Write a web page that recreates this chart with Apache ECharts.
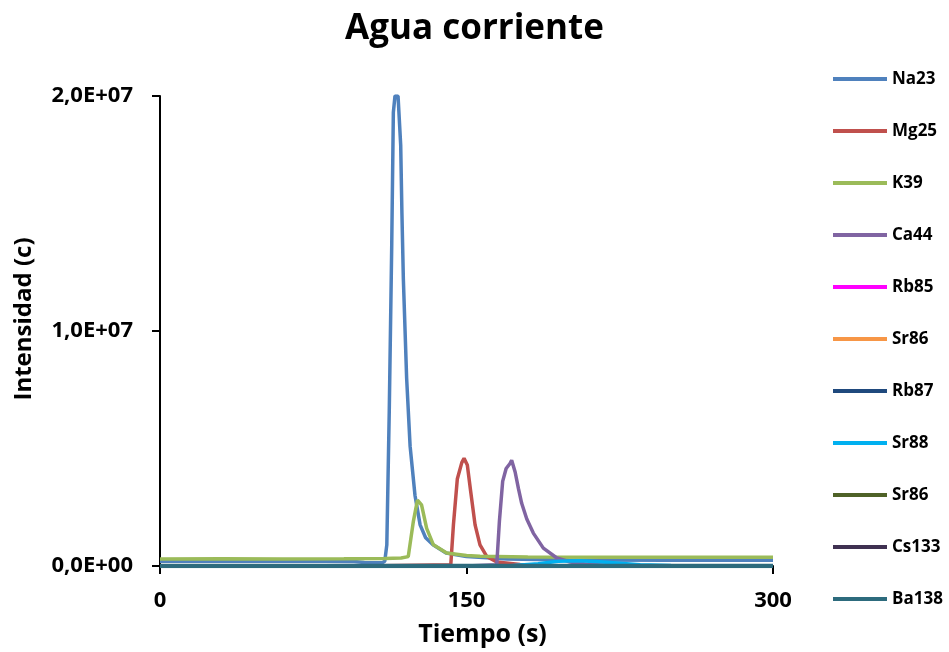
<!DOCTYPE html>
<html>
<head>
<meta charset="utf-8">
<script src="https://cdn.jsdelivr.net/npm/echarts@6/dist/echarts.min.js"></script>
<style>
  html, body { margin: 0; padding: 0; background: #fff; }
  #chart { width: 949px; height: 652px; }
</style>
</head>
<body>
<div id="chart"></div>
<script>
// Transient signals (counts) for a tap-water injection, time in seconds
const na23Time   = [0, 20, 40, 60, 80, 95, 100, 105, 109, 110, 111, 112.2, 113.4, 114.2, 115, 116.5, 117.8, 118.4, 119.1, 120.7, 122.4, 124.8, 127.3, 130, 133.6, 140, 150, 170, 200, 250, 300];
const na23Counts = [0.2e6, 0.21e6, 0.2e6, 0.21e6, 0.2e6, 0.19e6, 0.15e6, 0.14e6, 0.15e6, 0.2e6, 0.9e6, 6.6e6, 13.6e6, 19.3e6, 2.0e7, 2.0e7, 17.9e6, 15e6, 12.2e6, 8e6, 5.1e6, 3.0e6, 1.75e6, 1.2e6, 0.9e6, 0.55e6, 0.4e6, 0.3e6, 0.26e6, 0.24e6, 0.24e6];

const mg25Time   = [0, 100, 142.3, 143.6, 145.5, 147.7, 148.8, 150.4, 152, 154.2, 156.6, 159.9, 164.8, 176.2, 190, 300];
const mg25Counts = [0, 0, 0.05e6, 1.75e6, 3.7e6, 4.4e6, 4.58e6, 4.3e6, 3.2e6, 1.75e6, 0.9e6, 0.41e6, 0.17e6, 0.06e6, 0.02e6, 0];

const k39Time    = [0, 30, 60, 90, 110, 118, 121.5, 124, 126, 128, 130.5, 133.8, 140.3, 150, 156.6, 180, 220, 260, 300];
const k39Counts  = [0.3e6, 0.31e6, 0.3e6, 0.31e6, 0.32e6, 0.34e6, 0.4e6, 1.9e6, 2.8e6, 2.6e6, 1.6e6, 0.9e6, 0.55e6, 0.45e6, 0.41e6, 0.38e6, 0.37e6, 0.37e6, 0.37e6];

const ca44Time   = [0, 150, 164.8, 166.1, 167.7, 169.4, 171.3, 172.1, 173.8, 175.4, 177, 179.5, 182.7, 187.6, 194.2, 200.7, 210, 225, 300];
const ca44Counts = [0, 0, 0.05e6, 1.9e6, 3.6e6, 4.15e6, 4.36e6, 4.5e6, 4.0e6, 3.3e6, 2.67e6, 2.0e6, 1.4e6, 0.76e6, 0.34e6, 0.17e6, 0.06e6, 0.02e6, 0];

const sr88Time   = [0, 170, 185, 195, 205, 215, 225, 235, 250, 300];
const sr88Counts = [0, 0, 0.1e6, 0.2e6, 0.22e6, 0.18e6, 0.12e6, 0.05e6, 0.02e6, 0];

// Minor isotopes stay at the baseline for the whole run
const flatTime   = [0, 300];
const flatCounts = [0, 0];

const xTicks = [0, 150, 300];
const yTicks = [0, 1e7, 2e7];

const legendNames = ['Na23', 'Mg25', 'K39', 'Ca44', 'Rb85', 'Sr86', 'Rb87', 'Sr88', 'Sr86 ', 'Cs133', 'Ba138'];

function pairs(t, v) { return t.map((x, i) => [x, v[i]]); }

const seriesDefs = [
  { name: 'Na23',  color: '#4F81BD', t: na23Time, v: na23Counts },
  { name: 'Mg25',  color: '#C0504D', t: mg25Time, v: mg25Counts },
  { name: 'K39',   color: '#9BBB59', t: k39Time,  v: k39Counts },
  { name: 'Ca44',  color: '#8064A2', t: ca44Time, v: ca44Counts },
  { name: 'Rb85',  color: '#FF00FF', t: flatTime, v: flatCounts },
  { name: 'Sr86',  color: '#F79646', t: flatTime, v: flatCounts },
  { name: 'Rb87',  color: '#1F497D', t: flatTime, v: flatCounts },
  { name: 'Sr88',  color: '#00B0F0', t: sr88Time, v: sr88Counts },
  { name: 'Sr86 ', color: '#4F6228', t: flatTime, v: flatCounts },
  { name: 'Cs133', color: '#3F3151', t: flatTime, v: flatCounts },
  { name: 'Ba138', color: '#2D6B7D', t: flatTime, v: flatCounts, width: 4.5 }
];

const FONT = '"Open Sans", sans-serif';

function sci(v) {
  if (v === 0) return '0,0E+00';
  const e = Math.floor(Math.log10(Math.abs(v)));
  const m = (v / Math.pow(10, e)).toFixed(1).replace('.', ',');
  return m + 'E+' + String(e).padStart(2, '0');
}

const chart = echarts.init(document.getElementById('chart'), null, { renderer: 'canvas' });
chart.setOption({
  animation: false,
  backgroundColor: '#ffffff',
  title: {
    text: 'Agua corriente',
    left: 'center',
    top: 7,
    textStyle: { fontFamily: FONT, fontWeight: 'bold', fontSize: 35, color: '#000' }
  },
  legend: {
    orient: 'vertical',
    left: 828,
    top: 62,
    data: legendNames,
    icon: 'rect',
    itemWidth: 54,
    itemHeight: 4,
    itemGap: 28,
    formatter: n => n.trim(),
    textStyle: { fontFamily: FONT, fontWeight: 'bold', fontSize: 17, color: '#000', lineHeight: 24 },
    selectedMode: false
  },
  grid: { left: 160, right: 176, top: 96, bottom: 84, containLabel: false },
  xAxis: {
    type: 'value',
    min: xTicks[0],
    max: xTicks[xTicks.length - 1],
    interval: xTicks[1] - xTicks[0],
    name: 'Tiempo (s)',
    nameLocation: 'middle',
    nameGap: 56,
    nameTextStyle: { fontFamily: FONT, fontWeight: 'bold', fontSize: 25, color: '#000', padding: [0, 0, 0, 32] },
    axisLine: { onZero: false, lineStyle: { color: '#000', width: 2 } },
    axisTick: { show: true, inside: false, length: 8, lineStyle: { color: '#000', width: 2 } },
    axisLabel: { fontFamily: FONT, fontWeight: 'bold', fontSize: 22, color: '#000', margin: 24 },
    splitLine: { show: false }
  },
  yAxis: {
    type: 'value',
    min: yTicks[0],
    max: yTicks[yTicks.length - 1],
    interval: yTicks[1] - yTicks[0],
    name: 'Intensidad (c)',
    nameLocation: 'middle',
    nameGap: 124,
    nameRotate: 90,
    nameTextStyle: { fontFamily: FONT, fontWeight: 'bold', fontSize: 24, color: '#000', padding: [0, 0, 0, 24] },
    axisLine: { show: true, lineStyle: { color: '#000', width: 2 } },
    axisTick: { show: true, inside: false, length: 8, lineStyle: { color: '#000', width: 2 } },
    axisLabel: { fontFamily: FONT, fontWeight: 'bold', fontSize: 22, color: '#000', margin: 27, formatter: sci },
    splitLine: { show: false }
  },
  series: seriesDefs.map(s => ({
    name: s.name,
    type: 'line',
    data: pairs(s.t, s.v),
    showSymbol: false,
    symbol: 'none',
    smooth: false,
    clip: true,
    color: s.color,
    lineStyle: { color: s.color, width: s.width || 3.5 },
    emphasis: { disabled: true }
  }))
});
</script>
</body>
</html>
